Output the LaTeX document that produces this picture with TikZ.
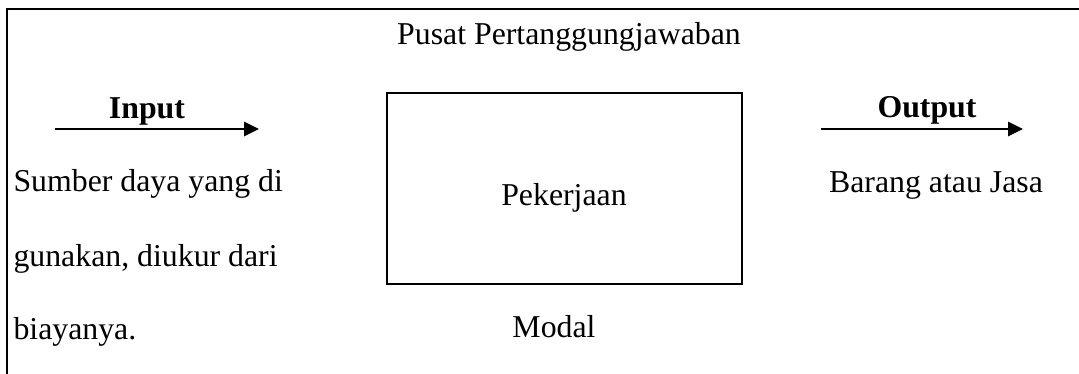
\documentclass[tikz,border=0pt]{standalone}
\usepackage{fontspec}
\setmainfont{Liberation Serif}
\usepackage{tikz}
\usetikzlibrary{positioning,arrows.meta}

\begin{document}
\begin{tikzpicture}[x=0.01326cm, y=-0.01326cm, font=\fontsize{12}{14}\selectfont,
    flow/.style={-{Triangle[length=5.6pt,width=5.4pt]}, line width=0.5pt},
    txt/.style={anchor=base, inner sep=0pt},
    lefttxt/.style={anchor=base west, inner sep=0pt},
    kotak/.style={draw, line width=0.75pt, minimum width=4.71cm, minimum height=2.53cm, inner sep=0pt}]
    \useasboundingbox (0,0) rectangle (1079,374);

    % bingkai: hanya sisi atas dan kiri
    \coordinate (tl) at (7,9);
    \coordinate (tr) at (1079,9);
    \coordinate (bl) at (7,374);
    \draw[line width=0.75pt] (tr) -- (tl) -- (bl);

    \node[txt] (pusat) at (569,45) {Pusat Pertanggungjawaban};

    % masukan
    \node[txt] (input) at (147,119) {\textbf{Input}};
    \coordinate (in-a) at (55,129);
    \coordinate (in-b) at (259,129);
    \draw[flow] (in-a) -- (in-b);

    \node[lefttxt] (sumber1) at (13,192) {Sumber daya yang di};
    \node[lefttxt] (sumber2) at (13,267) {gunakan, diukur dari};
    \node[lefttxt] (sumber3) at (13,340) {biayanya.};

    % proses
    \node[kotak] (kerja) at (564.5,188.5) {};
    \node[txt] (pekerjaan) at (564,206) {Pekerjaan};
    \node[txt] (modal) at (554,338) {Modal};

    % keluaran
    \node[txt] (output) at (927,118) {\textbf{Output}};
    \coordinate (out-a) at (821,129);
    \coordinate (out-b) at (1023,129);
    \draw[flow] (out-a) -- (out-b);

    \node[txt] (barang) at (936,193) {Barang atau Jasa};
\end{tikzpicture}
\end{document}
